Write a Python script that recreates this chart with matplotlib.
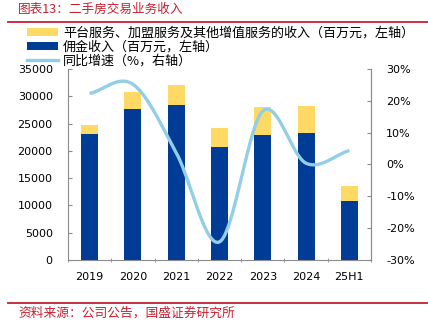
import numpy as np
import matplotlib
matplotlib.use("Agg")
import matplotlib.pyplot as plt
from matplotlib.patches import Patch
from matplotlib.lines import Line2D
from matplotlib.ticker import FuncFormatter, FixedLocator

plt.rcParams['font.family'] = ['Noto Sans CJK SC', 'DejaVu Sans']

# Data (RMB million; growth as fraction)
categories = ['2019', '2020', '2021', '2022', '2023', '2024', '25H1']
commission = [23030, 27610, 28350, 20650, 22850, 23210, 10750]
platform_other = [1650, 3120, 3720, 3540, 5250, 5010, 2810]
yoy_growth = [0.223, 0.252, 0.037, -0.243, 0.168, 0.004, 0.044]

label_other = '平台服务、加盟服务及其他增值服务的收入（百万元，左轴）'
label_comm = '佣金收入（百万元，左轴）'
label_yoy = '同比增速（%，右轴）'

C_BLUE = '#003B95'
C_YELLOW = '#FFD966'
C_LINE = '#92CFE6'
C_RED = '#C42030'
C_AXIS = '#8C8C8C'

W, H = 428, 328
fig = plt.figure(figsize=(W / 100, H / 100), dpi=100)
ax = fig.add_axes([68 / W, 1 - 260 / H, (371 - 68) / W, (260 - 69) / H])

x = np.arange(len(categories))
bar_w = 0.39
ax.bar(x, commission, width=bar_w, color=C_BLUE, zorder=2)
ax.bar(x, platform_other, width=bar_w, bottom=commission, color=C_YELLOW, zorder=2)

ax.set_xlim(-0.5, len(categories) - 0.5)
ax.set_ylim(0, 35000)
ax.yaxis.set_major_locator(FixedLocator(np.arange(0, 35001, 5000)))
ax.set_xticks(x)
ax.set_xticklabels(categories, fontfamily='DejaVu Sans', fontsize=8)
ax.set_xticks(np.arange(-0.5, len(categories), 1.0), minor=True)
ax.tick_params(axis='x', which='major', length=0, pad=9)
ax.tick_params(axis='x', which='minor', length=3, direction='inout', color=C_AXIS)
ax.tick_params(axis='y', direction='in', length=3, color=C_AXIS, labelsize=8, pad=11)
for lbl in ax.get_yticklabels():
    lbl.set_fontfamily('DejaVu Sans')

ax.spines['top'].set_visible(False)
for side in ['left', 'right', 'bottom']:
    ax.spines[side].set_color(C_AXIS)
    ax.spines[side].set_linewidth(0.8)

# Growth rate on the right axis, drawn as a smoothed curve
ax2 = ax.twinx()
ax2.set_ylim(-0.3, 0.3)
ax2.yaxis.set_major_locator(FixedLocator(np.arange(-0.3, 0.31, 0.1)))
ax2.yaxis.set_major_formatter(FuncFormatter(lambda v, p: f'{v * 100:.0f}%'))
ax2.tick_params(axis='y', direction='in', length=3, color=C_AXIS, labelsize=8, pad=11)
for lbl in ax2.get_yticklabels():
    lbl.set_fontfamily('DejaVu Sans')
for side in ['top', 'left', 'bottom']:
    ax2.spines[side].set_visible(False)
ax2.spines['right'].set_color(C_AXIS)
ax2.spines['right'].set_linewidth(0.8)


def smooth_curve(px, py, n=40):
    px = np.asarray(px, float)
    py = np.asarray(py, float)
    ex = np.concatenate([[2 * px[0] - px[1]], px, [2 * px[-1] - px[-2]]])
    ey = np.concatenate([[2 * py[0] - py[1]], py, [2 * py[-1] - py[-2]]])
    xs, ys = [], []
    for i in range(1, len(ex) - 2):
        t = np.linspace(0, 1, n, endpoint=(i == len(ex) - 3))
        p0, p1, p2, p3 = ey[i - 1], ey[i], ey[i + 1], ey[i + 2]
        q0, q1, q2, q3 = ex[i - 1], ex[i], ex[i + 1], ex[i + 2]
        cr = lambda a, b, c, d: 0.5 * ((2 * b) + (-a + c) * t
                                        + (2 * a - 5 * b + 4 * c - d) * t ** 2
                                        + (-a + 3 * b - 3 * c + d) * t ** 3)
        xs.append(cr(q0, q1, q2, q3))
        ys.append(cr(p0, p1, p2, p3))
    return np.concatenate(xs), np.concatenate(ys)


sx, sy = smooth_curve(x, yoy_growth)
ax2.plot(sx, sy, color=C_LINE, lw=2.4, solid_capstyle='butt', zorder=3)

# Legend in the upper area
handles = [Patch(facecolor=C_YELLOW, edgecolor='none'),
           Patch(facecolor=C_BLUE, edgecolor='none'),
           Line2D([0], [0], color=C_LINE, lw=2.4)]
fig.legend(handles, [label_other, label_comm, label_yoy],
           loc='upper left', bbox_to_anchor=(27 / W, 1 - 27 / H),
           bbox_transform=fig.transFigure, frameon=False, fontsize=9.4,
           borderpad=0, borderaxespad=0, handlelength=2.4, handleheight=0.55,
           handletextpad=0.35, labelspacing=0.05)

# Title and source
fig.text(18 / W, 1 - 9 / H, '图表13：二手房交易业务收入', color=C_RED,
         fontsize=9.1, style='italic', va='center', ha='left')
fig.add_artist(Line2D([8 / W, 1], [1 - 22 / H, 1 - 22 / H], color=C_RED, lw=1.3))
fig.add_artist(Line2D([8 / W, 1], [1 - 302.5 / H, 1 - 302.5 / H], color=C_RED, lw=1.3))
fig.text(18 / W, 1 - 313 / H, '资料来源：公司公告，国盛证券研究所', color=C_RED,
         fontsize=9.2, style='italic', va='center', ha='left')

fig.savefig('out.png', dpi=100)
